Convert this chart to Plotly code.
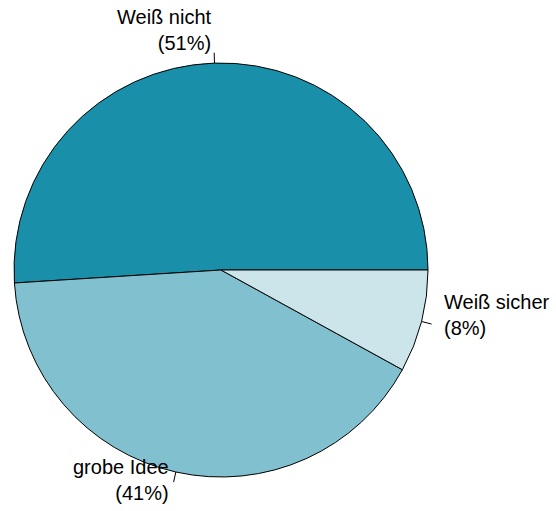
import math
import plotly.graph_objects as go

labels = ["Weiß nicht", "grobe Idee", "Weiß sicher"]
values = [51, 41, 8]
colors = ["#1A8FAA", "#80C0CF", "#CCE5EB"]

W, H = 556, 511
# pie placement (pixels)
cx, cy, R = 221, 270, 207

total = sum(values)
# start the first slice at 3 o'clock and run counterclockwise (R base pie style)
rotation = 90 - 360 * values[0] / total

fig = go.Figure(go.Pie(
    labels=labels, values=values, sort=False,
    direction="counterclockwise", rotation=rotation,
    marker=dict(colors=colors, line=dict(color="black", width=1)),
    textinfo="none", hoverinfo="label+percent",
    domain=dict(x=[(cx - R) / W, (cx + R) / W], y=[1 - (cy + R) / H, 1 - (cy - R) / H]),
    showlegend=False,
))

shapes, annots = [], []
cum = 0
for lab, v in zip(labels, values):
    mid = 2 * math.pi * (cum + v / 2) / total
    cum += v
    c, s = math.cos(mid), math.sin(mid)
    x0, y0 = cx + R * c, cy - R * s
    x1, y1 = cx + 1.05 * R * c, cy - 1.05 * R * s
    shapes.append(dict(type="line", xref="paper", yref="paper",
                       x0=x0 / W, y0=1 - y0 / H, x1=x1 / W, y1=1 - y1 / H,
                       line=dict(color="black", width=1)))
    xl, yl = cx + 1.1 * R * c, cy - 1.1 * R * s
    pct = round(100 * v / total)
    right = c < 0
    annots.append(dict(
        xref="paper", yref="paper", x=xl / W, y=1 - yl / H,
        text=f"{lab}<br>({pct}%)", showarrow=False,
        xanchor="right" if right else "left", yanchor="middle",
        align="right" if right else "left", yshift=12,
        font=dict(family="Liberation Sans, Arial, sans-serif", size=20, color="black"),
    ))

fig.update_layout(
    width=W, height=H, margin=dict(l=0, r=0, t=0, b=0),
    paper_bgcolor="white", plot_bgcolor="white",
    shapes=shapes, annotations=annots,
)
fig.write_html("out.html", config={"displayModeBar": False},
               post_script="document.body.style.margin='0';document.body.style.overflow='hidden';")
